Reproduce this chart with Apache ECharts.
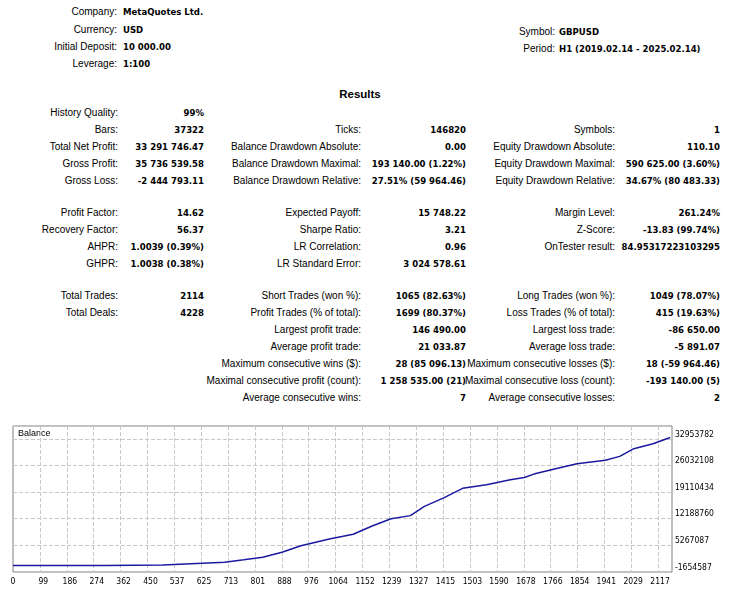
<!DOCTYPE html>
<html><head><meta charset="utf-8">
<script src="https://cdn.jsdelivr.net/npm/echarts@6/dist/echarts.min.js"></script>
<style>
body{margin:0;background:#fff;width:737px;height:600px;overflow:hidden;font-family:"Liberation Sans",sans-serif;font-size:10px;color:#000}
.t{position:absolute;white-space:nowrap;line-height:12px}
.b{font-weight:bold;font-family:"DejaVu Sans Condensed","Liberation Sans",sans-serif;font-size:9.5px}
#chart{position:absolute;left:0;top:420px;width:737px;height:180px}
</style></head><body>
<div id="txt"></div>
<div id="chart"></div>
<script>
// Report header
const headerLeft = [["Company:","MetaQuotes Ltd."],["Currency:","USD"],["Initial Deposit:","10 000.00"],["Leverage:","1:100"]];
const headerRight = [["Symbol:","GBPUSD"],["Period:","H1 (2019.02.14 - 2025.02.14)"]];
// Results rows: [label1,val1,label2,val2,label3,val3]
const resultRows = [
 ["History Quality:","99%","","","",""],
 ["Bars:","37322","Ticks:","146820","Symbols:","1"],
 ["Total Net Profit:","33 291 746.47","Balance Drawdown Absolute:","0.00","Equity Drawdown Absolute:","110.10"],
 ["Gross Profit:","35 736 539.58","Balance Drawdown Maximal:","193 140.00 (1.22%)","Equity Drawdown Maximal:","590 625.00 (3.60%)"],
 ["Gross Loss:","-2 444 793.11","Balance Drawdown Relative:","27.51% (59 964.46)","Equity Drawdown Relative:","34.67% (80 483.33)"],
 null,
 ["Profit Factor:","14.62","Expected Payoff:","15 748.22","Margin Level:","261.24%"],
 ["Recovery Factor:","56.37","Sharpe Ratio:","3.21","Z-Score:","-13.83 (99.74%)"],
 ["AHPR:","1.0039 (0.39%)","LR Correlation:","0.96","OnTester result:","84.95317223103295"],
 ["GHPR:","1.0038 (0.38%)","LR Standard Error:","3 024 578.61","",""],
 null,
 ["Total Trades:","2114","Short Trades (won %):","1065 (82.63%)","Long Trades (won %):","1049 (78.07%)"],
 ["Total Deals:","4228","Profit Trades (% of total):","1699 (80.37%)","Loss Trades (% of total):","415 (19.63%)"],
 ["","","Largest profit trade:","146 490.00","Largest loss trade:","-86 650.00"],
 ["","","Average profit trade:","21 033.87","Average loss trade:","-5 891.07"],
 ["","","Maximum consecutive wins ($):","28 (85 096.13)","Maximum consecutive losses ($):","18 (-59 964.46)"],
 ["","","Maximal consecutive profit (count):","1 258 535.00 (21)","Maximal consecutive loss (count):","-193 140.00 (5)"],
 ["","","Average consecutive wins:","7","Average consecutive losses:","2"]
];
// Balance curve (trade number, balance)
const tradeNo = [0,300,490,693,755,817,880,942,1035,1113,1175,1237,1300,1346,1409,1471,1549,1627,1673,1704,1782,1845,1938,1985,2031,2094,2150];
const balance = [10000,60000,150000,909000,1500000,2200000,3470000,5180000,6900000,8170000,10300000,12200000,13000000,15400000,17600000,20100000,21000000,22300000,22900000,23800000,25300000,26500000,27400000,28400000,30400000,31700000,33300000];
const xTicks = [0,99,186,274,362,450,537,625,713,801,888,976,1064,1152,1239,1327,1415,1503,1590,1678,1766,1854,1941,2029,2117];
const yTicks = [-1654587,5267087,12188760,19110434,26032108,32953782];

const box=document.getElementById('txt');
function put(text,x,y,align,bold){const d=document.createElement('div');d.className='t'+(bold?' b':'');d.textContent=text;
 d.style.top=(y-6)+'px'; if(align==='r'){d.style.right=(737-x)+'px';}else d.style.left=x+'px'; box.appendChild(d);}
[12,30,47,64].forEach((y,i)=>{put(headerLeft[i][0],117,y,'r');put(headerLeft[i][1],123,y,'l',1);});
[32,49].forEach((y,i)=>{put(headerRight[i][0],555,y,'r');put(headerRight[i][1],559,y,'l',1);});
const rt=document.createElement('div');rt.className='t';rt.style.fontWeight='bold';rt.textContent='Results';rt.style.fontSize='11.5px';rt.style.left='360px';rt.style.top='88px';rt.style.transform='translateX(-50%)';box.appendChild(rt);
let y=113;
resultRows.forEach(r=>{ if(!r){y+=15;return;}
 const xs=[118,204,361,466,615,720];
 r.forEach((s,i)=>{ if(s) put(s,xs[i],y,'r',i%2===1);});
 y+=17;});

const chart=echarts.init(document.getElementById('chart'),null,{renderer:'canvas'});
chart.setOption({
 animation:false,
 grid:{left:13,right:65,top:6,bottom:28,show:true,borderColor:'#808080',borderWidth:1},
 graphic:[{type:'text',left:18,top:9,style:{text:'Balance',font:'9px "Liberation Sans"',fill:'#000'}}],
 xAxis:{type:'value',min:0,max:2156,
  axisLine:{show:false},axisTick:{show:false},
  splitLine:{show:true,lineStyle:{color:'#c8c8c8',type:'dashed'},showMinLine:false,showMaxLine:false},
  axisLabel:{customValues:xTicks,formatter:v=>String(v),fontSize:8.5,color:'#000',fontFamily:'DejaVu Sans Condensed',margin:5},
  interval:87.96},
 yAxis:{type:'value',position:'right',min:-1654587,max:36300000,interval:6921673.8,
  axisLine:{show:false},axisTick:{show:false},
  splitLine:{show:true,lineStyle:{color:'#c8c8c8',type:'dashed'}},
  axisLabel:{customValues:yTicks,formatter:v=>String(Math.round(v)),fontSize:8.5,color:'#000',fontFamily:'DejaVu Sans Condensed',margin:3,verticalAlign:'bottom'}},
 series:[{type:'line',data:tradeNo.map((t,i)=>[t,balance[i]]),showSymbol:false,lineStyle:{color:'#1a1aa0',width:1.5},z:3}]
});
</script>
</body></html>
